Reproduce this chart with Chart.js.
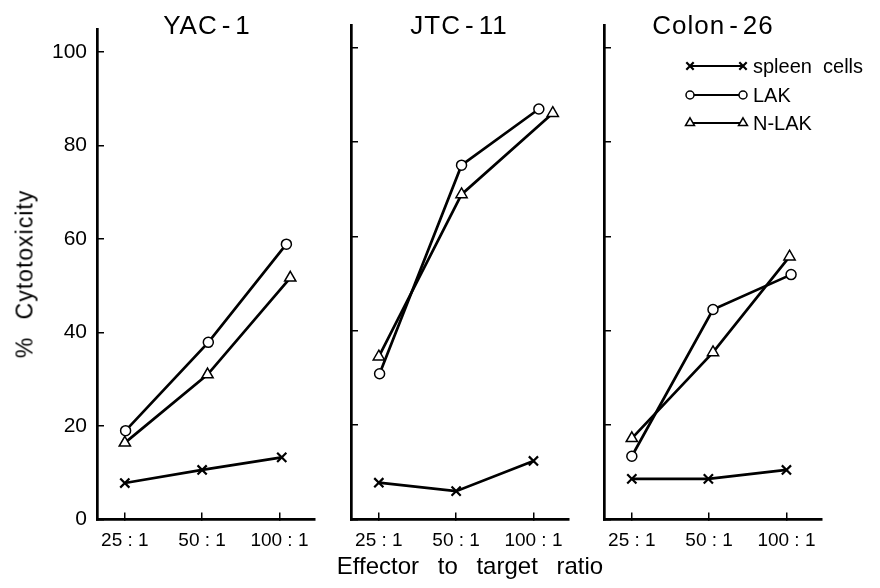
<!DOCTYPE html>
<html lang="en">
<head>
<meta charset="UTF-8">
<title>% Cytotoxicity - effector to target ratio</title>
<script src="https://cdn.jsdelivr.net/npm/chart.js"></script>
<style>
  body { margin: 0; background: #fff; }
  #wrap { position: relative; width: 880px; height: 588px; font-family: "Liberation Sans", Arial, sans-serif; color: #000; }
  #wrap canvas { position: absolute; left: 0; top: 0; }
  .title { position: absolute; top: 12px; font-size: 26px; line-height: 1; letter-spacing: 1px; transform: translateX(-50%); white-space: nowrap; }
  .title .h { margin: 0 4px; }
  #ytitle { position: absolute; left: 25px; top: 274px; font-size: 23px; line-height: 1; letter-spacing: 1px; word-spacing: 10px; white-space: nowrap; transform: translate(-50%, -50%) rotate(-90deg); }
  #xtitle { position: absolute; left: 470px; top: 566px; font-size: 24px; line-height: 1; word-spacing: 12px; white-space: nowrap; transform: translate(-50%, -50%); }
</style>
</head>
<body>
<div id="wrap">
  <canvas id="p1" width="880" height="588"></canvas>
  <canvas id="p2" width="880" height="588"></canvas>
  <canvas id="p3" width="880" height="588"></canvas>
  <div class="title" style="left:207px">YAC<span class="h">-</span>1</div>
  <div class="title" style="left:459px">JTC<span class="h">-</span>11</div>
  <div class="title" style="left:713px">Colon<span class="h">-</span>26</div>
  <div id="ytitle">% Cytotoxicity</div>
  <div id="xtitle">Effector to target ratio</div>
</div>

<script>
  // x categories (ratio) and their positions on the x scale
  const ratioLabels = ['25 : 1', '50 : 1', '100 : 1'];
  const ratioPos = [0, 1, 2];
  const seriesNames = ['spleen cells', 'LAK', 'N-LAK'];
  const yTicks = [0, 20, 40, 60, 80, 100];

  // YAC-1
  const yacSpleen = [7.8, 10.6, 13.3];
  const yacSpleenX = [0, 1.0, 2.03];
  const yacLak = [19.0, 37.9, 58.9];
  const yacLakX = [0.01, 1.08, 2.09];
  const yacNlak = [16.4, 31.0, 51.7];
  const yacNlakX = [0, 1.07, 2.14];

  // JTC-11
  const jtcSpleen = [7.8, 6.0, 12.4];
  const jtcSpleenX = [0, 1.0, 2.0];
  const jtcLak = [30.9, 75.1, 87.0];
  const jtcLakX = [0.01, 1.07, 2.07];
  const jtcNlak = [34.5, 68.9, 86.1];
  const jtcNlakX = [0, 1.07, 2.25];

  // Colon-26
  const colonSpleen = [8.6, 8.6, 10.5];
  const colonSpleenX = [0, 0.99, 2.0];
  const colonLak = [13.4, 44.5, 51.9];
  const colonLakX = [0, 1.05, 2.06];
  const colonNlak = [17.2, 35.4, 55.7];
  const colonNlakX = [0, 1.05, 2.04];

  const FONT = '"Liberation Sans", Arial, sans-serif';
  const pts = (xs, ys) => xs.map((x, i) => ({ x, y: ys[i] }));

  const styles = [
    { pointStyle: 'crossRot', pointRadius: 6.5, pointBorderWidth: 2.2, pointBackgroundColor: '#000' },
    { pointStyle: 'circle', pointRadius: 5, pointBorderWidth: 1.5, pointBackgroundColor: '#fff' },
    { pointStyle: 'triangle', pointRadius: 6.5, pointBorderWidth: 1.5, pointBackgroundColor: '#fff' }
  ];

  function datasets(spleen, lak, nlak) {
    return [spleen, lak, nlak].map((d, i) => Object.assign({
      label: seriesNames[i],
      data: d,
      showLine: true,
      borderColor: '#000',
      borderWidth: 2.7,
      pointBorderColor: '#000',
      pointHoverRadius: 0
    }, styles[i]));
  }

  // legend drawn in the Colon-26 panel: marker - line - marker, then label
  const lineLegend = {
    id: 'lineLegend',
    afterDatasetsDraw(chart, args, opts) {
      if (!opts.show) return;
      const ctx = chart.ctx;
      const rows = [66, 95, 123];
      ctx.save();
      chart.data.datasets.forEach((ds, i) => {
        const y = rows[i];
        ctx.strokeStyle = '#000';
        ctx.lineWidth = 2;
        ctx.beginPath();
        ctx.moveTo(690, y);
        ctx.lineTo(743, y);
        ctx.stroke();
        [690, 743].forEach(x => {
          ctx.fillStyle = ds.pointBackgroundColor;
          ctx.strokeStyle = '#000';
          ctx.lineWidth = ds.pointBorderWidth;
          Chart.helpers.drawPoint(ctx, { pointStyle: ds.pointStyle, radius: ds.pointRadius * 0.8, rotation: 0, borderWidth: ds.pointBorderWidth }, x, y);
        });
        ctx.fillStyle = '#000';
        ctx.font = '20px ' + FONT;
        ctx.textBaseline = 'middle';
        ctx.textAlign = 'left';
        ctx.fillText(ds.label.replace(' ', '  '), 753, y + 1);
      });
      ctx.restore();
    }
  };

  function makePanel(id, left, dsets, showYLabels, showLegend) {
    const width = 218;
    const yW = 60, xH = 45;
    return new Chart(document.getElementById(id), {
      type: 'scatter',
      data: { datasets: dsets },
      plugins: [lineLegend],
      options: {
        responsive: false,
        animation: false,
        events: [],
        layout: { autoPadding: false, padding: { left: left - yW, right: 880 - left - width, top: 25, bottom: 68.5 - xH } },
        plugins: {
          legend: { display: false },
          tooltip: { enabled: false },
          lineLegend: { show: showLegend }
        },
        scales: {
          x: {
            type: 'linear',
            min: -0.36,
            max: 2.46,
            afterBuildTicks: s => { s.ticks = ratioPos.map(v => ({ value: v })); },
            afterFit: s => { s.height = xH; },
            border: { display: true, color: '#000', width: 2.7 },
            grid: { drawOnChartArea: false, drawTicks: true, tickLength: -7, color: '#000', lineWidth: 1.5 },
            ticks: {
              padding: 17,
              color: '#000',
              font: { family: FONT, size: 19 },
              maxRotation: 0,
              autoSkip: false,
              callback: v => ratioLabels[ratioPos.indexOf(v)]
            }
          },
          y: {
            min: 0,
            max: 104.8,
            afterBuildTicks: s => { s.ticks = yTicks.map(v => ({ value: v })); },
            afterFit: s => { s.width = yW; },
            border: { display: true, color: '#000', width: 2.7 },
            grid: { drawOnChartArea: false, drawTicks: true, tickLength: -7, color: '#000', lineWidth: 1.5 },
            ticks: {
              display: showYLabels,
              padding: 17,
              color: '#000',
              font: { family: FONT, size: 21 }
            }
          }
        }
      }
    });
  }

  makePanel('p1', 97, datasets(pts(yacSpleenX, yacSpleen), pts(yacLakX, yacLak), pts(yacNlakX, yacNlak)), true, false);
  makePanel('p2', 351, datasets(pts(jtcSpleenX, jtcSpleen), pts(jtcLakX, jtcLak), pts(jtcNlakX, jtcNlak)), false, false);
  makePanel('p3', 604, datasets(pts(colonSpleenX, colonSpleen), pts(colonLakX, colonLak), pts(colonNlakX, colonNlak)), false, true);
</script>
</body>
</html>
